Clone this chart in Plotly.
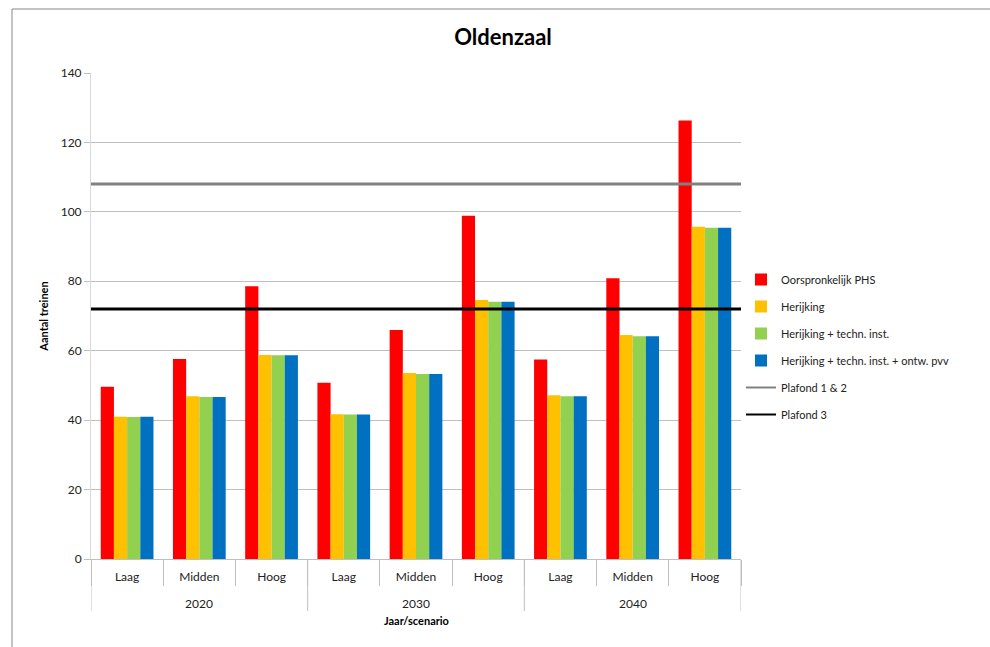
import plotly.graph_objects as go

years = ["2020", "2030", "2040"]
scenarios = ["Laag", "Midden", "Hoog"]

series_names = [
    "Oorspronkelijk PHS",
    "Herijking",
    "Herijking + techn. inst.",
    "Herijking + techn. inst. + ontw. pvv",
]
oorspronkelijk = [49.6, 57.6, 78.6, 50.8, 66.0, 98.9, 57.5, 80.9, 126.3]
herijking = [41.0, 46.9, 58.8, 41.7, 53.6, 74.6, 47.2, 64.5, 95.7]
herijking_techn = [40.9, 46.7, 58.7, 41.6, 53.3, 74.1, 46.9, 64.2, 95.4]
herijking_pvv = [41.0, 46.7, 58.7, 41.6, 53.3, 74.1, 46.9, 64.2, 95.4]
series_values = [oorspronkelijk, herijking, herijking_techn, herijking_pvv]
series_colors = ["#FF0000", "#FFC000", "#92D050", "#0070C0"]

plafond_names = ["Plafond 1 & 2", "Plafond 3"]
plafond_values = [108, 72]
plafond_colors = ["#808080", "#000000"]

y_ticks = [0, 20, 40, 60, 80, 100, 120, 140]

FONT = "Lato, 'Liberation Sans', sans-serif"
GRID = "#BFBFBF"

n_s = len(scenarios)
n = len(years) * n_s
idx = list(range(n))
tick_text = scenarios * len(years)

fig = go.Figure()
for i, (name, vals, col) in enumerate(zip(series_names, series_values, series_colors)):
    fig.add_trace(go.Bar(
        x=idx, y=vals, name=name,
        marker=dict(color=col, line=dict(width=0)),
        legendgroup=f"g{i}",
    ))

for j, (name, val, col) in enumerate(zip(plafond_names, plafond_values, plafond_colors)):
    fig.add_shape(type="line", xref="paper", yref="y", x0=0, x1=1, y0=val, y1=val,
                  line=dict(color=col, width=3), layer="above")
    fig.add_trace(go.Scatter(
        x=[None], y=[None], mode="lines", name=name,
        line=dict(color=col, width=2), legendgroup=f"p{j}",
    ))

# group dividers and year labels
for g, yr in enumerate(years):
    fig.add_shape(type="line", xref="x", yref="paper",
                  x0=g * n_s - 0.5, x1=g * n_s - 0.5, y0=0, y1=-52 / 486,
                  line=dict(color=GRID, width=1))
    fig.add_annotation(x=g * n_s + (n_s - 1) / 2, xref="x", y=(559 - 603) / 486, yref="paper",
                       text=yr, showarrow=False, yanchor="middle",
                       font=dict(family=FONT, size=12, color="#222222"))
fig.add_shape(type="line", xref="x", yref="paper",
              x0=n - 0.5, x1=n - 0.5, y0=0, y1=-52 / 486,
              line=dict(color=GRID, width=1))

fig.add_annotation(x=0.5, xref="paper", y=(559 - 620) / 486, yref="paper",
                   text="<b>Jaar/scenario</b>", showarrow=False, yanchor="middle",
                   font=dict(family=FONT, size=11, color="#000000"))

# outer chart border (left and top edges visible)
fig.add_shape(type="rect", xref="paper", yref="paper",
              x0=(12 - 91) / 650, x1=1.45, y0=-0.25, y1=(559 - 9) / 486,
              line=dict(color="#868686", width=1), layer="below")

fig.update_layout(
    width=990, height=647,
    margin=dict(l=91, r=249, t=73, b=88),
    paper_bgcolor="white", plot_bgcolor="white",
    font=dict(family=FONT, size=12, color="#222222"),
    title=dict(text="<b>Oldenzaal</b>", x=503 / 990, xanchor="center",
               y=1 - 37 / 647, yanchor="middle",
               font=dict(family=FONT, size=22, color="#000000")),
    barmode="group", bargap=0.27, bargroupgap=0,
    showlegend=True,
    legend=dict(x=(741 - 91) / 650, y=(559 - 265) / 486, xanchor="left", yanchor="top",
                font=dict(family=FONT, size=11, color="#222222"),
                tracegroupgap=8, bgcolor="rgba(0,0,0,0)"),
    xaxis=dict(
        range=[-0.5, n - 0.5], tickvals=idx, ticktext=tick_text,
        showline=True, linecolor=GRID, linewidth=1,
        ticks="", ticklabelstandoff=7,
        minor=dict(tickvals=[i - 0.5 for i in range(n + 1)], ticks="outside",
                   ticklen=26, tickcolor=GRID, showgrid=False),
        tickfont=dict(family=FONT, size=12, color="#222222"),
        showgrid=False, zeroline=False, fixedrange=True,
    ),
    yaxis=dict(
        range=[0, 140], tickvals=y_ticks,
        showgrid=True, gridcolor=GRID, gridwidth=1,
        showline=True, linecolor="#D9D9D9", linewidth=1,
        ticks="outside", ticklen=6, tickcolor=GRID,
        tickfont=dict(family=FONT, size=12, color="#222222"),
        title=dict(text="<b>Aantal treinen</b>", font=dict(family=FONT, size=11, color="#000000"), standoff=9),
        zeroline=False,
    ),
)

fig.write_html("out.html")
